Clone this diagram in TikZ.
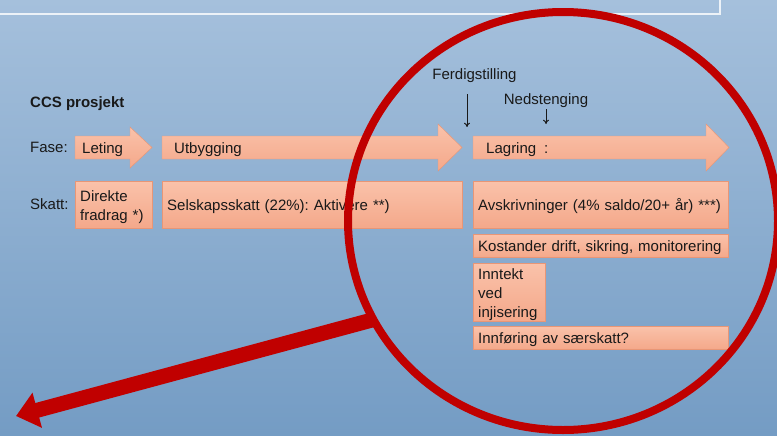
\documentclass[tikz,border=0pt]{standalone}
\usepackage{fontspec}
\setmainfont{Liberation Sans}
\frenchspacing
\usetikzlibrary{arrows.meta}

\definecolor{skytop}{RGB}{165,192,220}
\definecolor{skymid}{RGB}{134,167,202}
\definecolor{skybot}{RGB}{116,156,196}
\definecolor{boxtop}{RGB}{250,194,170}
\definecolor{boxbot}{RGB}{244,168,138}
\definecolor{boxedge}{RGB}{232,150,118}
\definecolor{ink}{RGB}{25,25,25}
\definecolor{ring}{RGB}{192,0,0}

\begin{document}
\begin{tikzpicture}[x=0.3mm,y=-0.3mm,
    font=\fontsize{12.8}{16.2}\selectfont,
    lbl/.style={anchor=base west, inner sep=0pt, text=ink},
    phase/.style={draw=boxedge, top color=boxtop, bottom color=boxbot},
    box/.style={draw=boxedge, top color=boxtop, bottom color=boxbot, anchor=north west,
        inner xsep=1.5mm, inner ysep=0pt, align=left, text=ink,
        execute at begin node={\rule{0pt}{12.8pt}}},
    tick/.style={ink, line width=0.3mm, -{To[length=1.3mm,width=1.8mm]}}]
    \useasboundingbox (0,0) rectangle (777,435);
    \clip (0,0) rectangle (777,435);
    \fill[top color=skytop, middle color=skymid, bottom color=skybot] (0,0) rectangle (777,435);
    \draw[white, opacity=0.8, line width=0.5mm] (-10,-10) rectangle (720,14);

    % row labels
    \node[lbl] (ccs) at (30,107) {\bfseries CCS prosjekt};
    \node[lbl] (fase) at (30,152.5) {Fase:};
    \node[lbl] (skatt) at (30,209.5) {Skatt:};

    % phases
    \draw[phase] (75,136) -- (130,136) -- (130,127) -- (152,147.5) -- (130,168) -- (130,159) -- (75,159) -- cycle;
    \draw[phase] (162,136) -- (438,136) -- (438,124) -- (462,147.5) -- (438,171) -- (438,159) -- (162,159) -- cycle;
    \draw[phase] (473,136) -- (706,136) -- (706,124) -- (729,147.5) -- (706,171) -- (706,159) -- (473,159) -- cycle;
    \node[lbl] (leting) at (82,153) {Leting};
    \node[lbl] (utb) at (174,153) {Utbygging};
    \node[lbl] (lag) at (486,153) {Lagring\hspace{2.4mm}:};

    % milestones
    \node[text=ink] (ferd) at (474.5,76) {Ferdigstilling};
    \node[text=ink] (ned) at (546,101) {Nedstenging};
    \coordinate (ferd top) at (467,94);
    \coordinate (ferd end) at (467,127);
    \coordinate (ned top) at (546,109);
    \coordinate (ned end) at (546,124);
    \draw[tick] (ferd top) -- (ferd end);
    \draw[tick] (ned top) -- (ned end);

    % tax boxes
    \node[box, minimum height=14.1mm, text width=20.1mm] (direkte) at (75,181) {Direkte\\fradrag *)};
    \node[box, minimum height=14.1mm, text width=87mm] (selskap) at (162,181) {Selskapsskatt (22\%): Aktivere **)};
    \node[box, minimum height=14.1mm, text width=73.5mm] (avskr) at (473,181) {Avskrivninger (4\% saldo/20+ år) ***)};
    \node[box, minimum height=6.9mm, text width=73.5mm] (kost) at (473,234) {Kostander drift, sikring, monitorering};
    \node[box, minimum height=17.4mm, text width=18.6mm] (inntekt) at (473,263) {Inntekt\\ved\\injisering};
    \node[box, minimum height=6.9mm, text width=73.5mm] (innf) at (473,326) {Innføring av særskatt?};

    % highlight
    \draw[ring, line width=2.4mm] (563,221) ellipse [x radius=215, y radius=209];
    \coordinate (ring edge) at (372,320);
    \coordinate (away) at (16,416);
    \draw[ring, line width=4.5mm, -{Triangle[length=6.6mm,width=10.5mm]}] (ring edge) -- (away);
\end{tikzpicture}
\end{document}
